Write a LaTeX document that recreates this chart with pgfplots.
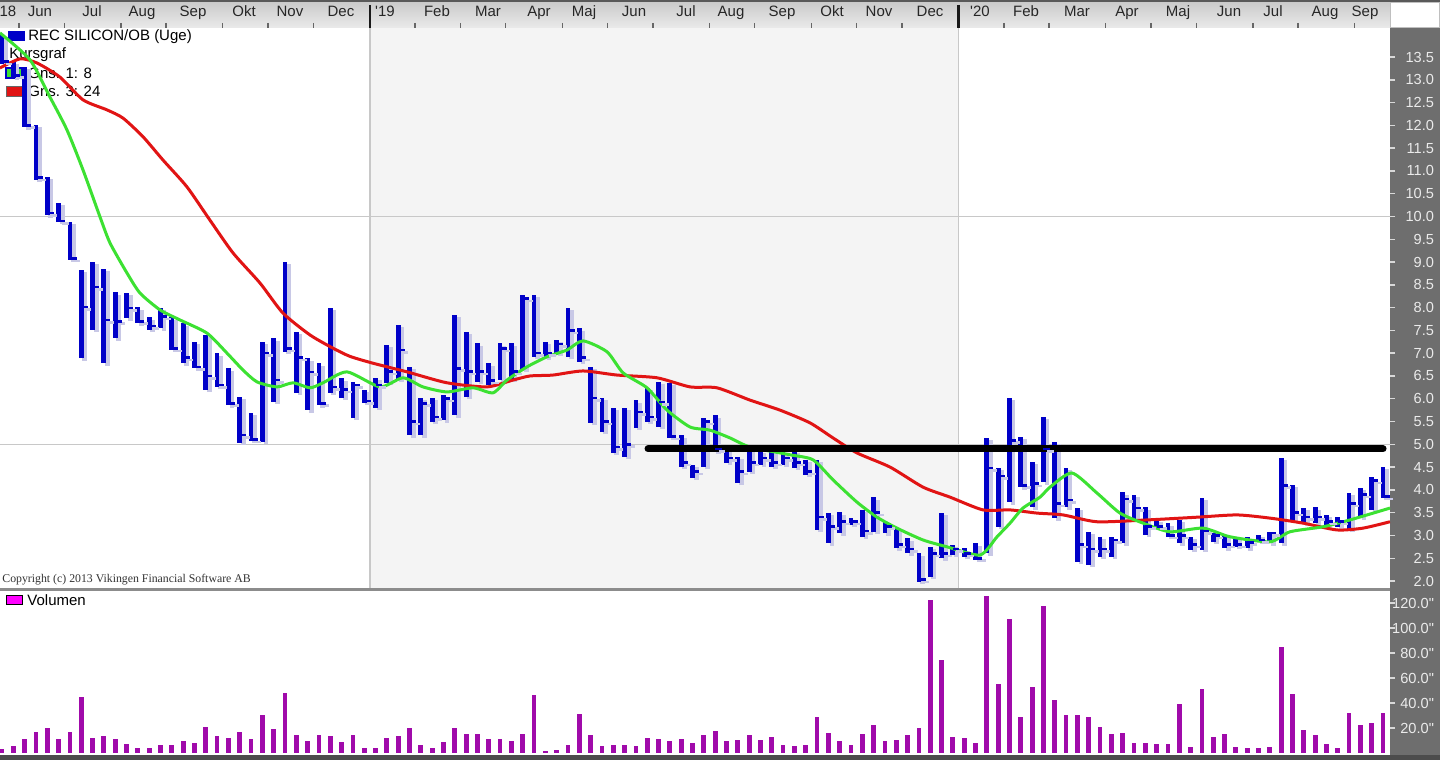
\documentclass[border=0pt]{standalone}
\usepackage{fontspec}
\setmainfont{Liberation Sans}
\newfontfamily\plainsans{Liberation Sans}
\newfontfamily\copyfont{Liberation Serif}
\usepackage{pgfplots}
\usepackage{pgfplotstable}
\pgfplotsset{compat=1.18}

\definecolor{barblue}{RGB}{0,0,200}
\definecolor{barshadow}{RGB}{200,200,230}
\definecolor{magreen}{RGB}{60,225,50}
\definecolor{mared}{RGB}{225,20,20}
\definecolor{volpurple}{RGB}{160,10,170}
\definecolor{volicon}{RGB}{255,0,255}
\definecolor{panelgray}{RGB}{110,110,110}
\definecolor{labelgray}{RGB}{235,235,235}
\definecolor{bgshade}{RGB}{244,244,244}
\definecolor{gridgray}{RGB}{200,200,200}
\definecolor{topa}{RGB}{200,200,200}
\definecolor{topb}{RGB}{234,234,234}
\definecolor{sepgray}{RGB}{140,140,140}

\newcommand\lgfont{\fontsize{7.5}{9}\selectfont}
\newcommand\scalefont{\plainsans\fontsize{7.3}{8}\selectfont}

% close tick to the right of each weekly bar
\pgfdeclareplotmark{closetick}{%
  \pgfpathmoveto{\pgfpoint{0pt}{0pt}}%
  \pgfpathlineto{\pgfpoint{3.3pt}{0pt}}%
  \pgfusepathqstroke}

% weekly bars: week index, high, low, close
\pgfplotstableread{
i h l c
0 14.00 13.35 13.40
1 13.40 13.04 13.10
2 13.28 11.96 12.00
3 12.01 10.80 10.85
4 10.87 10.03 10.08
5 10.30 9.88 9.90
6 9.88 9.05 9.08
7 8.83 6.89 8.01
8 9.00 7.51 8.45
9 8.85 6.78 7.73
10 8.34 7.33 7.70
11 8.32 7.77 7.99
12 8.01 7.66 7.70
13 7.79 7.51 7.60
14 8.00 7.55 7.80
15 7.79 7.07 7.10
16 7.66 6.78 6.90
17 7.25 6.67 6.70
18 7.40 6.19 6.50
19 7.00 6.26 6.30
20 6.67 5.86 5.90
21 6.04 5.03 5.20
22 5.69 5.09 5.10
23 7.25 5.05 7.00
24 7.33 5.93 6.41
25 9.00 7.03 7.10
26 7.47 6.13 6.90
27 6.89 5.75 6.59
28 6.78 5.86 5.90
29 7.99 6.13 6.26
30 6.45 6.02 6.20
31 6.37 5.58 6.30
32 6.19 5.91 5.95
33 6.46 5.80 6.30
34 7.18 6.35 6.60
35 7.62 6.41 7.07
36 6.70 5.20 5.50
37 6.02 5.20 5.90
38 6.02 5.49 5.60
39 6.08 5.53 6.00
40 7.84 5.64 6.67
41 7.47 6.04 6.60
42 7.22 6.37 6.60
43 6.78 6.30 6.40
44 7.22 6.41 7.10
45 7.22 6.41 6.60
46 8.28 6.63 8.20
47 8.28 6.92 7.00
48 7.25 6.90 7.00
49 7.29 7.00 7.20
50 7.99 6.92 7.50
51 7.55 6.81 6.90
52 6.70 5.47 6.02
53 6.02 5.27 5.50
54 5.80 4.81 4.94
55 5.80 4.72 5.00
56 5.97 5.36 5.71
57 6.24 5.49 5.60
58 6.37 5.38 5.93
59 6.35 5.14 5.17
60 5.20 4.50 4.60
61 4.55 4.26 4.40
62 5.58 4.50 5.50
63 5.64 4.83 4.90
64 4.98 4.59 4.70
65 4.72 4.15 4.40
66 4.98 4.39 4.60
67 4.87 4.55 4.70
68 4.98 4.50 4.60
69 4.83 4.55 4.70
70 4.87 4.48 4.60
71 4.66 4.33 4.40
72 4.66 3.12 3.40
73 3.49 2.83 3.20
74 3.51 3.05 3.30
75 3.38 3.23 3.30
76 3.56 2.97 3.10
77 3.84 3.08 3.50
78 3.30 3.05 3.20
79 3.16 2.72 2.80
80 2.94 2.61 2.70
81 2.61 1.98 2.03
82 2.75 2.09 2.60
83 3.49 2.50 2.60
84 2.79 2.57 2.70
85 2.72 2.53 2.60
86 2.83 2.46 2.50
87 5.14 2.61 4.48
88 4.48 3.19 4.30
89 6.02 3.73 5.09
90 5.16 4.06 4.10
91 4.61 3.62 4.14
92 5.60 4.17 4.90
93 5.05 3.38 3.70
94 4.48 3.62 3.78
95 3.60 2.42 2.80
96 3.08 2.35 2.70
97 2.97 2.53 2.70
98 2.97 2.53 2.90
99 3.95 2.83 3.80
100 3.89 3.34 3.60
101 3.62 3.01 3.20
102 3.34 3.19 3.20
103 3.27 2.97 3.00
104 3.34 2.83 3.00
105 2.97 2.68 2.80
106 3.82 2.68 3.10
107 3.05 2.86 3.00
108 3.01 2.72 2.80
109 2.97 2.75 2.80
110 2.97 2.72 2.85
111 3.01 2.86 2.90
112 3.08 2.83 3.05
113 4.70 2.83 4.10
114 4.11 3.34 3.50
115 3.60 3.27 3.40
116 3.62 3.27 3.40
117 3.45 3.19 3.30
118 3.40 3.19 3.30
119 3.93 3.12 3.70
120 4.04 3.40 3.90
121 4.28 3.56 4.20
122 4.50 3.82 3.85
}\ohlc

% weekly volume (thousands)
\pgfplotstableread{
i v
0 3.5
1 5.6
2 11
3 16.8
4 20
5 11
6 16.8
7 45
8 12.3
9 13.3
10 11
11 7.5
12 4
13 4
14 6.7
15 6.7
16 9.9
17 7.7
18 21
19 13.3
20 12.3
21 16.8
22 11
23 30
24 19
25 48
26 14.4
27 9.9
28 14.4
29 13.3
30 8.8
31 14.4
32 4
33 4
34 12.3
35 13.3
36 20
37 6.7
38 4
39 8.8
40 20
41 15.5
42 15.5
43 11
44 11
45 9.9
46 15.5
47 46
48 1.6
49 2.7
50 6.7
51 31.5
52 14.4
53 5.6
54 6.7
55 6.7
56 5.6
57 12.3
58 11
59 9.9
60 11
61 7.7
62 14
63 17.4
64 9.4
65 10.2
66 14
67 10.7
68 12.9
69 6.2
70 5.4
71 6.2
72 29
73 16
74 9.4
75 6.2
76 15.3
77 22
78 9.4
79 10.5
80 14
81 19.6
82 122
83 74
84 12.9
85 11.8
86 8
87 125.5
88 55
89 107
90 29
91 53
92 117.4
93 42
94 30
95 30
96 29
97 21
98 15.3
99 16
100 8
101 8
102 7.2
103 7.2
104 39
105 4.8
106 51.5
107 12.9
108 15.3
109 4.6
110 3.8
111 3.8
112 4.8
113 84.5
114 47
115 18.2
116 14
117 7.2
118 3.8
119 32
120 22
121 24
122 32
}\vol

\begin{document}
\begin{tikzpicture}
\path[use as bounding box] (0pt,0pt) rectangle (720pt,380pt);
\fill[white] (0pt,0pt) rectangle (720pt,380pt);
% 2019 shading
\fill[bgshade] (184.95pt,86pt) rectangle (479.3pt,366pt);
% date bar
\shade[top color=topa, bottom color=topb] (0pt,366pt) rectangle (695pt,380pt);
\draw[black!65, line width=1pt] (0pt,379.5pt) -- (720pt,379.5pt);
% right scale panel
\fill[panelgray] (695pt,0pt) rectangle (720pt,366pt);
\draw[gray!50] (695.3pt,366.3pt) rectangle (719.7pt,379pt);
% panel separator and bottom edge
\fill[sepgray] (0pt,84.5pt) rectangle (695pt,86pt);
\fill[black!70] (0pt,0pt) rectangle (720pt,2.5pt);

% legend of price panel
\fill[barblue] (4pt,359.5pt) rectangle (12.5pt,364.5pt);
\node[anchor=west, inner sep=0pt, font=\lgfont] at (14pt,361.5pt) {REC SILICON/OB (Uge)};
\node[anchor=west, inner sep=0pt, font=\lgfont] at (4.5pt,352.5pt) {Kursgraf};
\filldraw[fill=magreen, draw=barblue, line width=0.8pt] (3pt,341pt) rectangle (11pt,346pt);
\node[anchor=west, inner sep=0pt, font=\lgfont] at (14pt,343.5pt) {Gns. 1: 8};
\filldraw[fill=mared, draw=black!60, line width=0.4pt] (3pt,332pt) rectangle (11pt,337pt);
\node[anchor=west, inner sep=0pt, font=\lgfont] at (14pt,334.5pt) {Gns. 3: 24};
\node[anchor=west, inner sep=0pt, font=\copyfont\fontsize{5.9}{7}\selectfont, text=black!80]
  at (1pt,90pt) {Copyright (c) 2013 Vikingen Financial Software AB};
% legend of volume panel
\filldraw[fill=volicon, draw=black, line width=0.5pt] (3pt,77.5pt) rectangle (11pt,82pt);
\node[anchor=west, inner sep=0pt, font=\lgfont] at (13.5pt,80pt) {Volumen};

% price panel
\begin{axis}[
  at={(0pt,86pt)}, anchor=south west, scale only axis,
  width=695pt, height=280pt,
  xmin=-0.1767, xmax=122.615, ymin=1.846, ymax=14.138,
  axis line style={draw=none},
  xtick pos=top, ytick pos=right, yticklabel pos=right,
  tick align=outside,
  major tick length=2.5pt,
  xtick={1.5,5.5,10.5,14.5,19.5,23.5,27.5,36.5,40.5,44.5,49.5,53.5,57.5,62.5,66.5,71.5,75.5,79.5,88.5,92.5,97.5,101.5,105.5,110.5,114.5,119.5},
  xticklabels={},
  xtick style={black!60, line width=0.7pt},
  ytick style={black!15, line width=0.7pt},
  extra x ticks={32.5,84.5}, extra x tick labels={},
  extra x tick style={grid=major, major tick length=11.5pt, xtick style={black!90, line width=1.1pt}},
  extra y ticks={5,10}, extra y tick labels={},
  extra y tick style={grid=major},
  major grid style={gridgray, line width=0.6pt},
  ytick={2,2.5,...,13.5},
  /pgf/number format/assume math mode=true,
  yticklabel={\pgfmathprintnumber[fixed,fixed zerofill,precision=1]{\tick}},
  yticklabel style={anchor=east, xshift=23pt, text=labelgray, font=\scalefont},
]
% bar shadows
\addplot[only marks, mark=closetick,
  mark options={barshadow, line width=1.3pt, xshift=1.8pt, yshift=-1.2pt},
  error bars/.cd, y dir=both, y explicit, error mark=none,
  error bar style={barshadow, line width=2.4pt, xshift=1.8pt, yshift=-1.2pt}]
  table[x=i, y=c, y error plus expr=\thisrow{h}-\thisrow{c}, y error minus expr=\thisrow{c}-\thisrow{l}] {\ohlc};
% weekly bars
\addplot[only marks, mark=closetick,
  mark options={barblue, line width=1.3pt},
  error bars/.cd, y dir=both, y explicit, error mark=none,
  error bar style={barblue, line width=2.4pt}]
  table[x=i, y=c, y error plus expr=\thisrow{h}-\thisrow{c}, y error minus expr=\thisrow{c}-\thisrow{l}] {\ohlc};
% 24 week average
\addplot[mared, line width=1.5pt, smooth, tension=0.4] coordinates {
(-0.18,13.26) (1.59,13.46) (3.09,13.37) (5.12,13.06) (7.16,12.56) (9.28,12.34)
(10.69,12.16) (12.46,11.75) (14.22,11.24) (16.34,10.65) (18.37,9.92) (20.41,9.20)
(22.79,8.54) (24.82,7.88) (27.21,7.40) (29.24,7.11) (30.74,6.93) (32.77,6.78)
(35.78,6.59) (39.31,6.35) (42.84,6.26) (45.14,6.41) (46.64,6.50) (48.67,6.52)
(51.33,6.61) (54.33,6.52) (57.86,6.46) (60.78,6.26) (63.16,6.24) (66.08,5.97)
(68.73,5.75) (71.38,5.47) (73.41,5.14) (75.53,4.81) (78.45,4.50) (81.36,4.06)
(83.75,3.84) (86.66,3.56) (89.05,3.56) (91.43,3.49) (93.73,3.45) (96.73,3.30)
(101.15,3.34) (105.57,3.40) (109.10,3.45) (112.01,3.38) (114.93,3.27) (117.93,3.12)
(120.23,3.16) (122.61,3.30)};
% 8 week average
\addplot[magreen, line width=1.5pt, smooth, tension=0.4] coordinates {
(-0.18,14.03) (2.47,13.44) (4.24,12.62) (5.74,11.90) (7.16,11.02) (8.66,9.99)
(9.54,9.42) (11.04,8.76) (12.19,8.32) (13.96,7.95) (15.72,7.73) (18.11,7.44)
(19.88,7.00) (21.29,6.63) (22.53,6.37) (24.29,6.26) (25.71,6.35) (27.21,6.24)
(28.36,6.35) (30.48,6.59) (33.39,6.26) (35.42,6.46) (37.19,6.26) (39.31,6.15)
(41.61,6.24) (43.37,6.13) (44.61,6.41) (46.38,6.70) (48.14,6.92) (49.91,7.07)
(51.33,7.27) (53.45,7.03) (54.86,6.57) (56.98,6.24) (58.75,5.75) (60.78,5.38)
(62.54,5.31) (64.31,5.14) (66.08,4.94) (69.61,4.77) (71.64,4.66) (73.41,4.22)
(75.53,3.73) (77.30,3.40) (79.06,3.16) (81.36,2.90) (83.48,2.75) (86.40,2.57)
(87.90,2.97) (89.05,3.27) (90.19,3.60) (91.70,3.84) (92.58,4.06) (94.52,4.37)
(96.73,3.93) (98.76,3.49) (100.80,3.27) (103.18,3.08) (106.10,3.16) (108.48,2.97)
(112.01,2.86) (113.78,3.08) (116.70,3.19) (119.08,3.34) (122.61,3.60)};
% resistance line
\addplot[black, line width=3.5pt, line cap=round] coordinates {(57.07,4.9) (122.0,4.9)};
\end{axis}

% volume panel
\begin{axis}[
  at={(0pt,3.5pt)}, anchor=south west, scale only axis,
  width=695pt, height=81pt,
  xmin=-0.1767, xmax=122.615, ymin=0, ymax=129.6,
  axis line style={draw=none},
  xtick=\empty, ytick pos=right, yticklabel pos=right,
  tick align=outside, major tick length=2.5pt,
  ytick style={black!15, line width=0.7pt},
  ytick={20,40,60,80,100,120},
  yticklabels={20.0",40.0",60.0",80.0",100.0",120.0"},
  yticklabel style={anchor=east, xshift=23pt, text=labelgray, font=\scalefont},
]
\addplot[ycomb, volpurple, line width=2.4pt] table[x=i, y=v] {\vol};
\end{axis}

% month names in the date bar
\foreach \px/\t in {8/18,40/Jun,92/Jul,142/Aug,193/Sep,244/Okt,290/Nov,341/Dec,385/'19,
  437/Feb,488/Mar,539/Apr,584/Maj,634/Jun,686/Jul,731/Aug,782/Sep,832/Okt,879/Nov,930/Dec,
  980/'20,1026/Feb,1077/Mar,1127/Apr,1178/Maj,1229/Jun,1273/Jul,1325/Aug,1365/Sep}
  \node[anchor=base, inner sep=0pt, font=\plainsans\lgfont, text=black!85] at (\px*0.5pt,371.5pt) {\t};
\end{tikzpicture}
\end{document}
